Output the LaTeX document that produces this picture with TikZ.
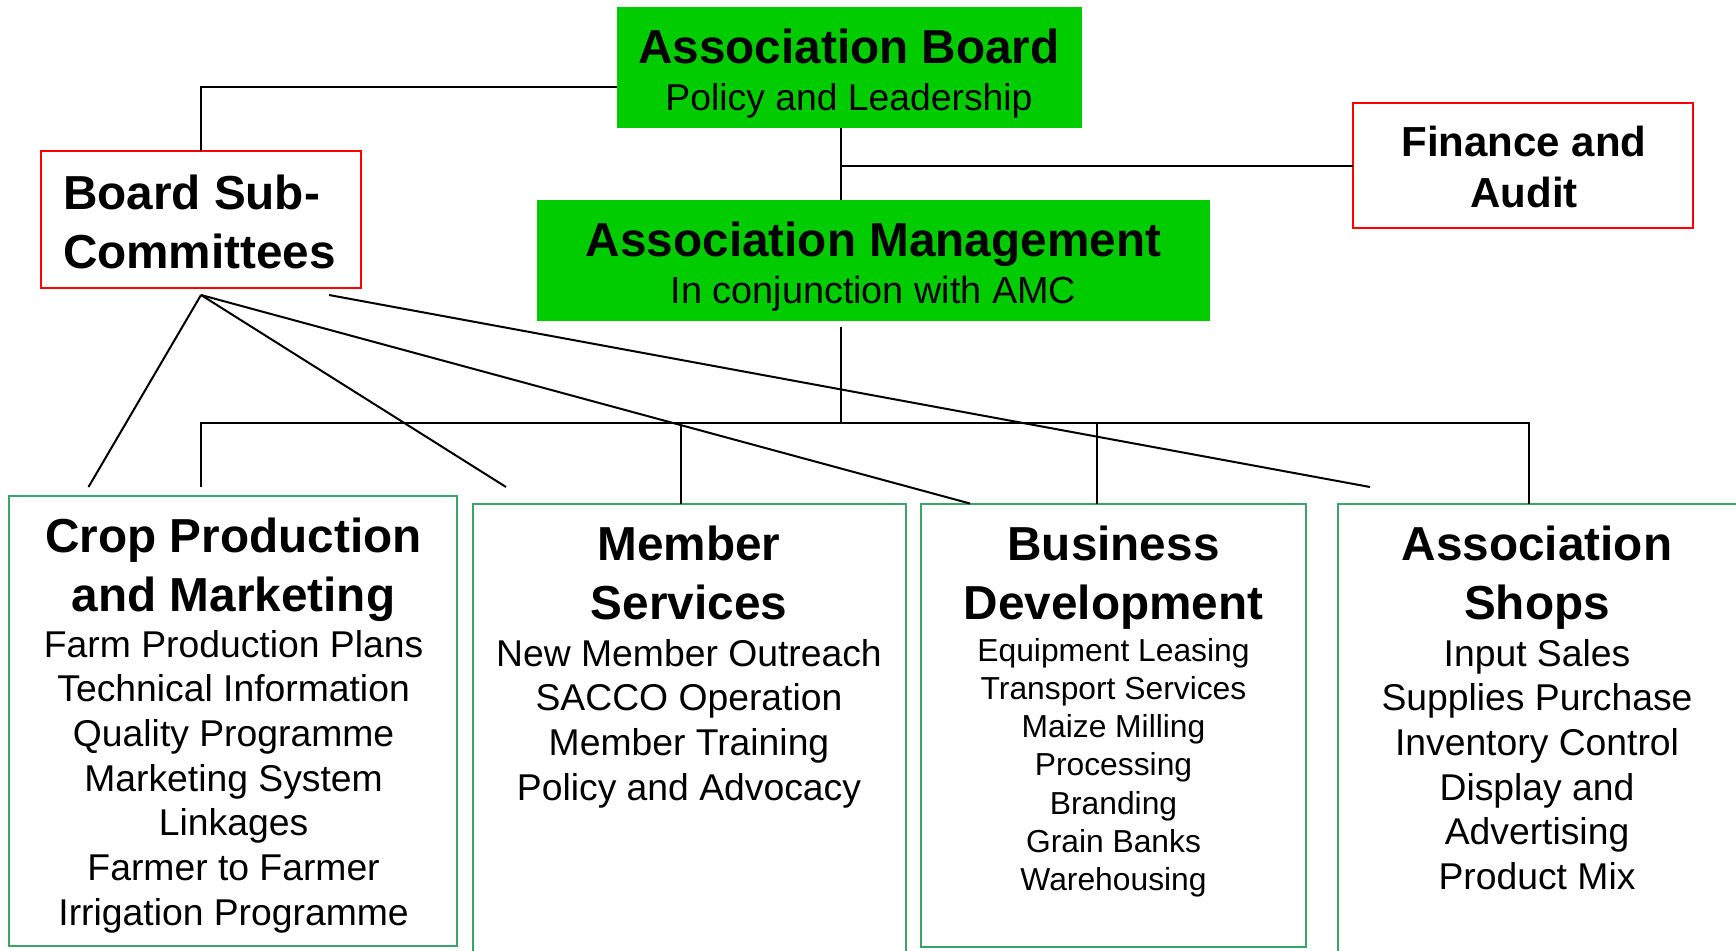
\documentclass[tikz,border=0pt]{standalone}
\usepackage{fontspec}
\setmainfont{Liberation Sans}
\definecolor{boardgreen}{RGB}{0,204,0}
\definecolor{unitgreen}{RGB}{58,165,106}

\begin{document}
\begin{tikzpicture}[x=1pt,y=-1pt,
    every node/.style={inner sep=0pt, outer sep=0pt},
    wire/.style={line width=2pt, black},
    greenbox/.style={fill=boardgreen, minimum width=#1, minimum height=121pt},
    redbox/.style={draw=red, line width=2pt, fill=white},
    unitbox/.style={draw=unitgreen, line width=2pt},
    head/.style={anchor=base, align=center, font=\fontsize{47.7}{58.5}\selectfont\bfseries},
    sub/.style={anchor=base, align=center, font=\fontsize{37.3}{44.7}\selectfont},
    small/.style={anchor=base, align=center, font=\fontsize{31.8}{38.3}\selectfont}]
      \useasboundingbox (0,0) rectangle (1736,950);

      \node[greenbox=465pt] (board) at (849.5,67.5) {};
      \node[greenbox=673pt] (mgmt) at (873.5,260) {};
      \node[redbox, minimum width=340pt, minimum height=125pt] (finance) at (1523,165.5) {};
      \node[redbox, minimum width=320pt, minimum height=137pt] (subcom) at (201,219.5) {};

      \node[unitbox, minimum width=448pt, minimum height=450pt] (crop) at (233,721) {};
      \node[unitbox, minimum width=433pt, minimum height=453pt] (member) at (689.5,730) {};
      \node[unitbox, minimum width=384.5pt, minimum height=443.5pt] (business) at (1113.25,725.25) {};
      \node[unitbox, minimum width=402.5pt, minimum height=453pt] (shops) at (1538.75,730) {};

      % multi-line texts sit on the baseline of their last line
      \node[head] (boardT) at (849,63.5) {Association Board};
      \node[sub] (boardS) at (849,110.7) {Policy and Leadership};
      \node[head] (mgmtT) at (873.5,256) {Association Management};
      \node[sub, font=\fontsize{37.8}{44.7}\selectfont] (mgmtS) at (873.5,303.5) {In conjunction with AMC};
      \node[head, font=\fontsize{42}{51}\selectfont\bfseries] (financeT) at (1524,207.6) {Finance and\\Audit};
      \node[head, anchor=base west, align=left] (subcomT) at (63,268) {Board Sub-\\Committees};

      \node[head] (cropT) at (233.6,611) {Crop Production\\and Marketing};
      \node[sub] (cropL) at (233.6,925.2) {Farm Production Plans\\Technical Information\\Quality Programme\\Marketing System\\Linkages\\Farmer to Farmer\\Irrigation Programme};
      \node[head] (memberT) at (689,619) {Member\\Services};
      \node[sub] (memberL) at (689,800.1) {New Member Outreach\\SACCO Operation\\Member Training\\Policy and Advocacy};
      \node[head] (businessT) at (1113.5,619) {Business\\Development};
      \node[small] (businessL) at (1113.5,890.8) {Equipment Leasing\\Transport Services\\Maize Milling\\Processing\\Branding\\Grain Banks\\Warehousing};
      \node[head] (shopsT) at (1537,619) {Association\\Shops};
      \node[sub] (shopsL) at (1537,889.5) {Input Sales\\Supplies Purchase\\Inventory Control\\Display and\\Advertising\\Product Mix};

      \coordinate (spine) at ([xshift=-32.5pt]mgmt.north);
      \coordinate (bus) at (841,423);
      \draw[wire] ([yshift=-19.5pt]board.west) -| (subcom.north);
      \draw[wire] ([xshift=-8.5pt]board.south) -- (spine);
      \draw[wire] (finance.west) -- (finance.west -| spine);
      \draw[wire] ([xshift=-32.5pt,yshift=-6pt]mgmt.south) -- (bus);
      \draw[wire] ([xshift=-32.5pt,yshift=9pt]crop.north) |- (bus) -| ([xshift=-9.75pt]shops.north);
      \draw[wire] ([xshift=-8.5pt]member.north) -- ([xshift=-8.5pt]member.north |- bus);
      \draw[wire] ([xshift=-16.25pt]business.north) -- ([xshift=-16.25pt]business.north |- bus);

      \coordinate (fan) at ([yshift=-7pt]subcom.south);
      \draw[wire] (fan) -- ([xshift=-144.5pt,yshift=9pt]crop.north);
      \draw[wire] (fan) -- ([xshift=-183.5pt,yshift=16.5pt]member.north);
      \draw[wire] (fan) -- ([xshift=-143.25pt]business.north);
      \draw[wire] ([xshift=128pt]fan) -- ([xshift=-168.75pt,yshift=16.5pt]shops.north);
    \end{tikzpicture}
\end{document}
